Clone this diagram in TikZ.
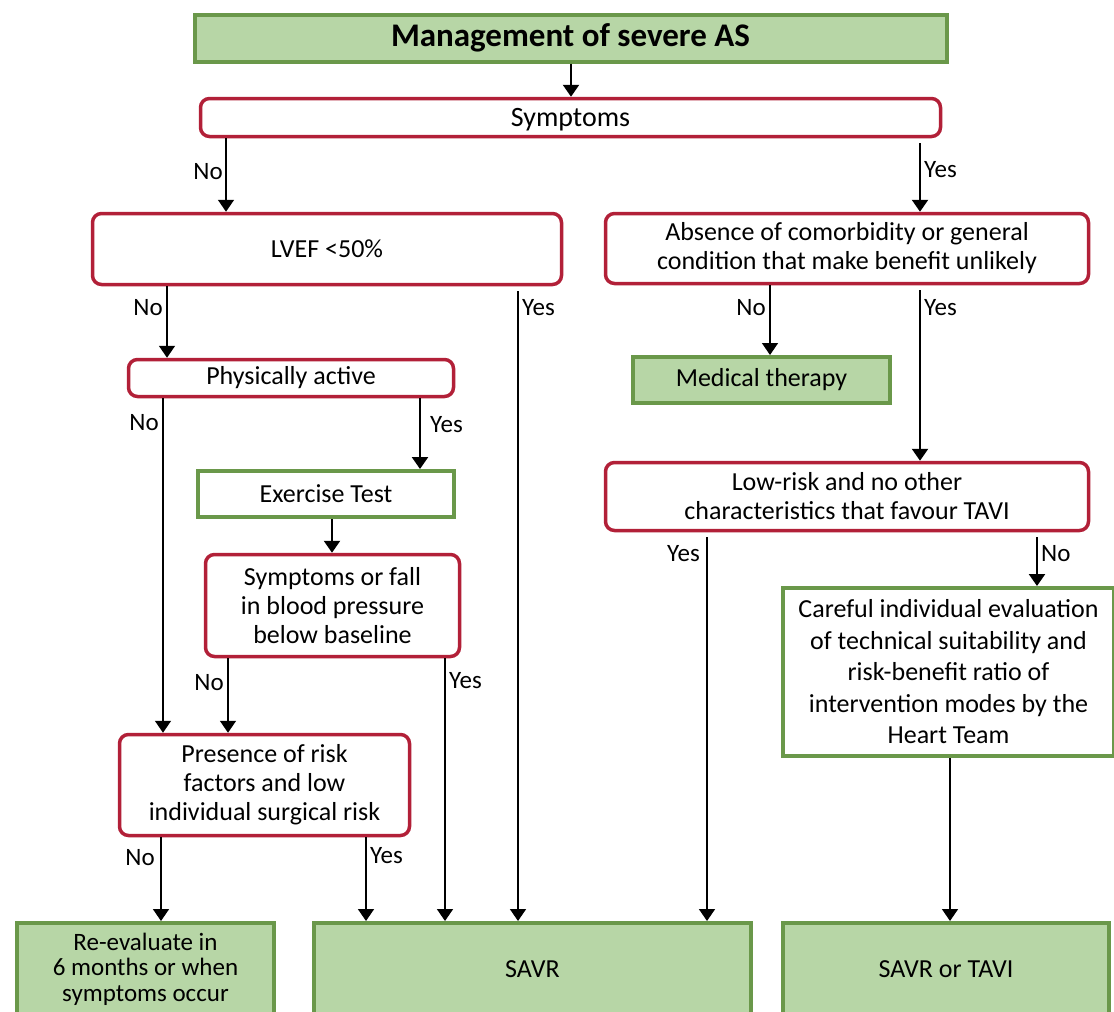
\documentclass[tikz,border=0pt]{standalone}
\usepackage{fontspec}
\setmainfont{Carlito}
\usetikzlibrary{arrows.meta}
\definecolor{gfill}{RGB}{183,214,166}
\definecolor{gdraw}{RGB}{106,152,74}
\definecolor{rdraw}{RGB}{178,32,56}
\begin{document}
\begin{tikzpicture}[x=1pt,y=-1pt,
  redbox/.style={draw=rdraw, line width=3.5pt, rounded corners=9pt, fill=white, align=center, inner sep=0pt, font=\fontsize{26}{29}\selectfont},
  greenbox/.style={draw=gdraw, line width=4pt, fill=gfill, align=center, inner sep=0pt, font=\fontsize{26}{29}\selectfont},
  whitegreen/.style={greenbox, fill=white},
  arr/.style={line width=1.6pt, -{Triangle[length=12pt,width=16pt]}},
  thickarr/.style={arr, line width=2.4pt},
  lbl/.style={font=\fontsize{25}{25}\selectfont, inner sep=0pt}]
\useasboundingbox (0,0) rectangle (1114,1012);
\fill[white] (0,0) rectangle (1114,1012);

\node[greenbox, minimum width=752, minimum height=47, font=\bfseries\fontsize{33}{36}\selectfont] (title) at (570.5,38) {Management of severe AS};
\node[redbox, minimum width=740, minimum height=38, font=\fontsize{28}{30}\selectfont, text depth=1pt] (symp) at (570.5,117.5) {Symptoms};
\node[redbox, minimum width=469, minimum height=71] (lvef) at (327,249) {LVEF <50\%};
\node[redbox, minimum width=483, minimum height=70] (abs) at (847,248.5) {Absence of comorbidity or general\\condition that make benefit unlikely};
\node[redbox, minimum width=325, minimum height=37] (phys) at (291,378) {Physically active};
\node[greenbox, minimum width=257, minimum height=46] (med) at (761.5,380) {Medical therapy};
\node[whitegreen, minimum width=256, minimum height=46] (ex) at (326,494) {Exercise Test};
\node[redbox, minimum width=254, minimum height=102] (fall) at (332.5,605.5) {Symptoms or fall\\in blood pressure\\below baseline};
\node[redbox, minimum width=483, minimum height=68] (low) at (847,496.5) {Low-risk and no other\\characteristics that favour TAVI};
\node[whitegreen, minimum width=331, minimum height=168, font=\fontsize{26}{31.5}\selectfont] (care) at (948.5,672) {Careful individual evaluation\\of technical suitability and\\risk-benefit ratio of\\intervention modes by the\\Heart Team};
\node[redbox, minimum width=290, minimum height=101] (pres) at (264.5,785) {Presence of risk\\factors and low\\individual surgical risk};
\node[greenbox, minimum width=257, minimum height=92, font=\fontsize{25}{25.5}\selectfont] (reev) at (145.5,969) {Re-evaluate in\\6 months or when\\symptoms occur};
\node[greenbox, minimum width=437, minimum height=92] (savr) at (532.5,969) {SAVR};
\node[greenbox, minimum width=326, minimum height=92] (st) at (946,969) {SAVR or TAVI};

% connectors
\draw[thickarr] (571,0 |- title.south) -- (571,0 |- symp.north);
\draw[arr] (226,0 |- symp.south) -- (226,0 |- lvef.north);
\draw[thickarr, shorten <=5pt] (920,0 |- symp.south) -- (920,0 |- abs.north);
\draw[arr] (167,0 |- lvef.south) -- (167,0 |- phys.north);
\draw[arr, shorten <=5pt] (518,0 |- lvef.south) -- (518,0 |- savr.north);
\draw[arr] (770,0 |- abs.south) -- (770,0 |- med.north);
\draw[thickarr, shorten <=5pt] (920,0 |- abs.south) -- (920,0 |- low.north);
\draw[arr] (163,0 |- phys.south) -- (163,0 |- pres.north);
\draw[thickarr] (420,0 |- phys.south) -- (420,0 |- ex.north);
\draw[thickarr] (332,0 |- ex.south) -- (332,0 |- fall.north);
\draw[arr] (228,0 |- fall.south) -- (228,0 |- pres.north);
\draw[arr] (445,0 |- fall.south) -- (445,0 |- savr.north);
\draw[arr] (161,0 |- pres.south) -- (161,0 |- reev.north);
\draw[arr] (366,0 |- pres.south) -- (366,0 |- savr.north);
\draw[arr, shorten <=5pt] (707,0 |- low.south) -- (707,0 |- savr.north);
\draw[thickarr, shorten <=5pt] (1037,0 |- low.south) -- (1037,0 |- care.north);
\draw[arr] (950,0 |- care.south) -- (950,0 |- st.north);

% labels
\node[lbl, anchor=east] (l1) at (223,172) {No};
\node[lbl, anchor=west] (l2) at (924,170) {Yes};
\node[lbl, anchor=east] (l3) at (163,308) {No};
\node[lbl, anchor=west] (l4) at (522,308) {Yes};
\node[lbl, anchor=east] (l5) at (766,308) {No};
\node[lbl, anchor=west] (l6) at (924,308) {Yes};
\node[lbl, anchor=east] (l7) at (159,423) {No};
\node[lbl, anchor=west] (l8) at (430,425) {Yes};
\node[lbl, anchor=east] (l9) at (224,683) {No};
\node[lbl, anchor=west] (l10) at (449,681) {Yes};
\node[lbl, anchor=east] (l11) at (155,858) {No};
\node[lbl, anchor=west] (l12) at (370,856) {Yes};
\node[lbl, anchor=east] (l13) at (700,554) {Yes};
\node[lbl, anchor=west] (l14) at (1041,554) {No};
\end{tikzpicture}
\end{document}
